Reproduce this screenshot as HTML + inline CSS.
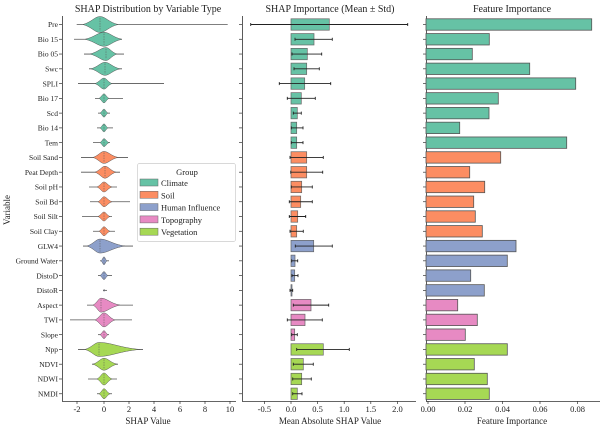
<!DOCTYPE html>
<html><head><meta charset="utf-8"><style>
html,body{margin:0;padding:0;background:#fff;}
svg{display:block;font-family:"Liberation Serif",serif;}
</style></head><body>
<svg id="s" width="600" height="430" xmlns="http://www.w3.org/2000/svg"></svg>
<script>
const S=document.getElementById('s');let h='';
const C={c:'#66c2a5',s:'#fc8d62',h:'#8da0cb',t:'#e78ac3',v:'#a6d854'};
const rows=[
['Pre','c',76.7,227.7,83,100,118,8,329.3,250.7,407.7,591.7],
['Bio 15','c',74,122,85,104,122,7,314,295,332.3,489.3],
['Bio 05','c',84,124,90,106,117,6.5,307.3,292,321.7,472.3],
['Swc','c',89,122,91,105,120,6.5,306.7,294,319.3,529.7],
['SPLI','c',78,164,95,104,112,5.5,304.7,279.3,330.7,575.7],
['Bio 17','c',95,123,99,104,109,4.5,301.3,287.3,315.3,498.3],
['Scd','c',98,110,100,104,108,4,297.3,293.3,301.3,489],
['Bio 14','c',97,113,100,104,108,4,296.7,291.3,303,459.7],
['Tem','c',93,110,100,104,109,4,296.7,291.3,303,566.7],
['Soil Sand','s',81,128,93,104,118,6,306.7,290,323.3,500.7],
['Peat Depth','s',81,120,95,105,116,6,306.7,290.7,322.7,469.7],
['Soil pH','s',89,117,97,104,112,5,301.7,291.3,312.3,484.7],
['Soil Bd','s',90,130,98,104,112,5,300.7,289.3,312.3,473.7],
['Soil Silt','s',82,112,98,104,110,4.5,297.7,289.3,305.7,475.3],
['Soil Clay','s',93,115,99,104,110,4.5,296.7,290,303.3,482.3],
['GLW4','h',83,133,87,100,125,7,313.7,295.3,332.3,516],
['Ground Water','h',100,109,101,104,107,4,295,291.7,297.7,507.3],
['DistoD','h',98,112,100,104,108,4,294.7,292,298,470.7],
['DistoR','h',103,107,103.5,104,105,1,292,290,292.7,484.3],
['Aspect','t',87,133,93,101,120,7,311,293.3,328.7,457.7],
['TWI','t',70,132,95,104,115,7,305,287.3,322.3,477.3],
['Slope','t',98,109,100,104,108,4,294.7,291.7,297.3,465.3],
['Npp','v',78,143,85,99,140,7,323.3,296.7,349.3,507.3],
['NDVI','v',92,118,93,104,117,6,303.3,293.3,313.3,474.3],
['NDWI','v',88,117,97,104,112,6,301.7,292.7,311.3,487.3],
['NMDI','v',97,112,99,104,110,5,297.3,292.7,302,489.3]];
function T(x,y,t,a,sz,extra){h+=`<text x="${x}" y="${y}" font-size="${sz||8}" text-anchor="${a||'middle'}" fill="#222" ${extra||''}>${t}</text>`;}
T(148,12,'SHAP Distribution by Variable Type','middle',10);
T(330,12,'SHAP Importance (Mean ± Std)','middle',10);
T(512,12,'Feature Importance','middle',10);
h+='<g stroke="#333" stroke-width="0.8" fill="none"><path d="M62.5,16V401.5H236"/><path d="M242.5,16V401.5H416"/><path d="M426.5,16V401.5H600"/></g>';
rows.forEach((r,i)=>{
 const y=24.5+i*14.77, col=C[r[1]];
 h+=`<line x1="59" x2="62" y1="${y}" y2="${y}" stroke="#333" stroke-width="0.7"/><line x1="239" x2="242" y1="${y}" y2="${y}" stroke="#333" stroke-width="0.7"/><line x1="423" x2="426" y1="${y}" y2="${y}" stroke="#333" stroke-width="0.7"/>`;
 T(58,y+2.7,r[0],'end',7.5);
 h+=`<line x1="${r[2]}" x2="${r[3]}" y1="${y}" y2="${y}" stroke="#555" stroke-width="0.8"/>`;
 const L=r[4],P=r[5],R=r[6],H=r[7];
 h+=`<path d="M${L},${y} C${(L+P)/2},${y-H*0.3} ${P-(P-L)*0.3},${y-H} ${P},${y-H} C${P+(R-P)*0.3},${y-H} ${(P+R)/2},${y-H*0.25} ${R},${y} C${(P+R)/2},${y+H*0.25} ${P+(R-P)*0.3},${y+H} ${P},${y+H} C${P-(P-L)*0.3},${y+H} ${(L+P)/2},${y+H*0.3} ${L},${y}Z" fill="${col}" stroke="#555" stroke-width="0.5"/>`;
 h+=`<line x1="${P}" x2="${P}" y1="${y-H*0.8}" y2="${y+H*0.8}" stroke="#555" stroke-width="0.5" stroke-dasharray="1.5,1"/>`;
 h+=`<rect x="291" y="${y-5.7}" width="${r[8]-291}" height="11.4" fill="${col}" stroke="#666" stroke-width="0.7"/>`;
 h+=`<g stroke="#222" stroke-width="0.9"><line x1="${r[9]}" x2="${r[10]}" y1="${y}" y2="${y}"/><line x1="${r[9]}" x2="${r[9]}" y1="${y-1.5}" y2="${y+1.5}"/><line x1="${r[10]}" x2="${r[10]}" y1="${y-1.5}" y2="${y+1.5}"/></g>`;
 h+=`<rect x="426" y="${y-5.7}" width="${r[11]-426}" height="11.4" fill="${col}" stroke="#555" stroke-width="0.8"/>`;
});
[[-2,77],[0,104],[2,129],[4,154],[6,180],[8,205],[10,230]].forEach(([v,x])=>{h+=`<line x1="${x}" x2="${x}" y1="401" y2="404" stroke="#333" stroke-width="0.7"/>`;T(x,412,v,'middle',8.5);});
[['-0.5',264.4],['0.0',291],['0.5',317.6],['1.0',344.2],['1.5',370.8],['2.0',397.4]].forEach(([v,x])=>{h+=`<line x1="${x}" x2="${x}" y1="401" y2="404" stroke="#333" stroke-width="0.7"/>`;T(x,412,v,'middle',8.5);});
[['0.00',428],['0.02',465],['0.04',502.5],['0.06',540],['0.08',577.5]].forEach(([v,x])=>{h+=`<line x1="${x}" x2="${x}" y1="401" y2="404" stroke="#333" stroke-width="0.7"/>`;T(x,412,v,'middle',8.5);});
T(148,424,'SHAP Value','middle',9);
T(330,424,'Mean Absolute SHAP Value','middle',9);
T(512,424,'Feature Importance','middle',9);
T(0,0,'Variable','middle',9,'transform="translate(10,210) rotate(-90)"');
h+='<rect x="137.5" y="163.5" width="98" height="78" fill="#fff" stroke="#ccc" stroke-width="0.7" rx="2"/>';
T(187,175,'Group','middle',8.5);
[['Climate','c'],['Soil','s'],['Human Influence','h'],['Topography','t'],['Vegetation','v']].forEach(([n,k],i)=>{const y=183+i*12.3;h+=`<rect x="140" y="${y-4}" width="18" height="7" fill="${C[k]}" stroke="#666" stroke-width="0.5"/>`;T(161,y+3,n,'start',8.5);});
S.innerHTML=h;
</script>
</body></html>
